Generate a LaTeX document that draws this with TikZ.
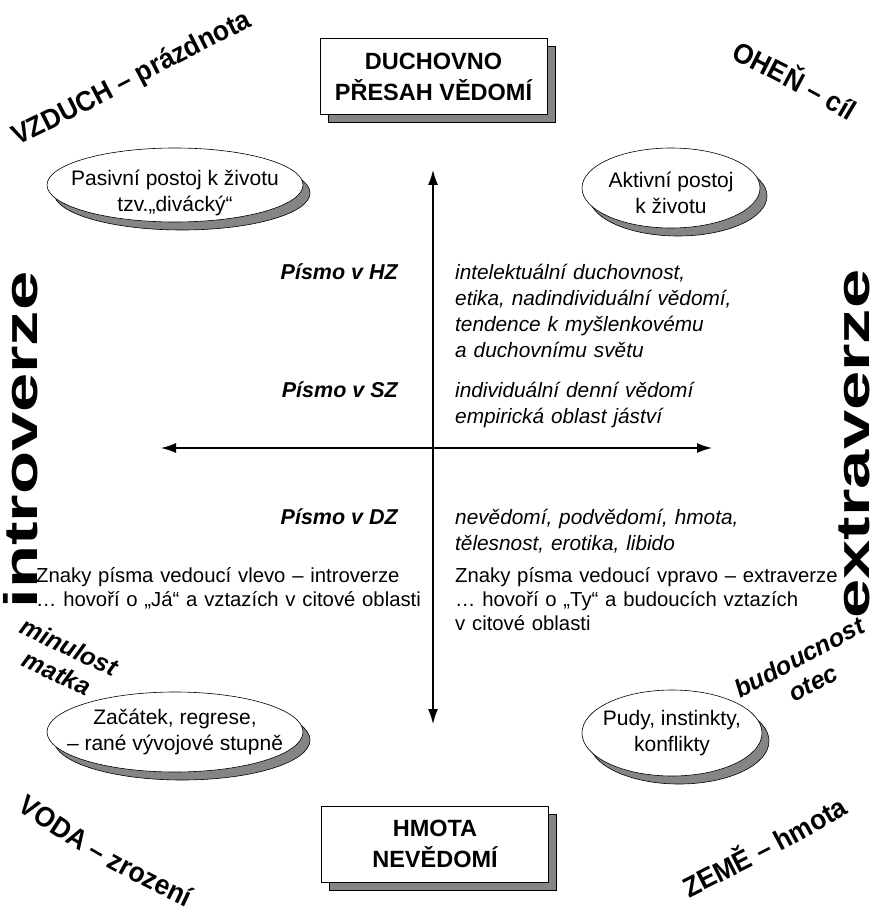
\documentclass[tikz,border=0pt]{standalone}
\usepackage{fontspec}
\setmainfont{Liberation Sans}
\newfontfamily\widefont{Liberation Sans}[FakeStretch=1.5]
\newfontfamily\cornerface{Liberation Sans}[FakeStretch=0.94]
\usetikzlibrary{arrows.meta,shapes.geometric,shadows,decorations.text}

\newcommand{\bodyfont}{\fontsize{20.8}{26}\selectfont}
\newcommand{\cornerfont}{\cornerface\fontsize{28}{28}\selectfont\bfseries}

\begin{document}
\begin{tikzpicture}[x=1pt,y=-1pt,
        every node/.style={font=\bodyfont, inner sep=0pt},
        titlebox/.style={
          draw=black, line width=0.8pt, fill=white,
          minimum width=227pt, minimum height=76pt, align=center,
          font=\fontsize{23.5}{31}\selectfont\bfseries,
          drop shadow={shadow xshift=8pt, shadow yshift=-8pt,
            fill=black!48, draw=black, opacity=1},
        },
        oval/.style={
          ellipse, draw=black, line width=0.6pt, fill=white,
          drop shadow={shadow xshift=7pt, shadow yshift=-8pt,
            fill=black!48, draw=black, opacity=1},
        },
        ovaltext/.style={align=center, font=\fontsize{21}{26}\selectfont},
        script/.style={font=\fontsize{21.5}{26}\selectfont\bfseries\itshape, anchor=base east},
        meaning/.style={font=\bodyfont\itshape, anchor=base west,
          text width=300pt, align=left},
        hint/.style={anchor=base west, text width=400pt, align=left,
          font=\fontsize{20.3}{24}\selectfont},
        side/.style={rotate=90, text height=35pt, text depth=0pt,
          font=\fontsize{47}{47}\selectfont\widefont\bfseries},
        age/.style={align=center, font=\fontsize{25}{29}\selectfont\bfseries\itshape},
        axis/.style={line width=1.4pt, {Latex[length=15pt,width=10pt]}-{Latex[length=15pt,width=10pt]}},
        ]
  \useasboundingbox[fill=white] (0,0) rectangle (877,912);

  % boxes top and bottom
  \node[titlebox] (spirit) at (433.5,76.5) {DUCHOVNO\\PŘESAH VĚDOMÍ};
  \node[titlebox] (matter) at (435,844) {HMOTA\\NEVĚDOMÍ};

  % axes
  \coordinate (up) at (433,170);
  \coordinate (down) at (433,724);
  \coordinate (left) at (161,448);
  \coordinate (right) at (712,448);
  \draw[axis] (up) -- (down);
  \draw[axis] (left) -- (right);

  % ovals
  \node[oval, minimum width=256pt, minimum height=74pt] (passive) at (175,185) {};
  \node[ovaltext] at ([yshift=-8pt]passive) {Pasivní postoj k životu\\tzv.„divácký“};
  \node[oval, minimum width=178pt, minimum height=80pt] (active) at (671,188) {};
  \node[ovaltext] at ([yshift=-5pt]active) {Aktivní postoj\\k životu};
  \node[oval, minimum width=256pt, minimum height=80pt] (origin) at (175,732) {};
  \node[ovaltext] at (origin) {Začátek, regrese,\\– rané vývojové stupně};
  \node[oval, minimum width=180pt, minimum height=86pt] (drives) at (672,733) {};
  \node[ovaltext] at (drives) {Pudy, instinkty,\\konflikty};

  % zones
  \node[script] (hz) at (398,279) {Písmo v HZ};
  \node[meaning] (hzt) at (455,279) {intelektuální duchovnost,\\etika, nadindividuální vědomí,\\tendence k myšlenkovému\\a duchovnímu světu};
  \node[script] (sz) at (398,397) {Písmo v SZ};
  \node[meaning] (szt) at (455,397) {individuální denní vědomí\\empirická oblast jáství};
  \node[script] (dz) at (398,524) {Písmo v DZ};
  \node[meaning] (dzt) at (455,524) {nevědomí, podvědomí, hmota,\\tělesnost, erotika, libido};

  \node[hint] (lefthint) at (36,582) {Znaky písma vedoucí vlevo – introverze\\… hovoří o „Já“ a vztazích v citové oblasti};
  \node[hint] (righthint) at (455,582) {Znaky písma vedoucí vpravo – extraverze\\… hovoří o „Ty“ a budoucích vztazích\\v citové oblasti};

  % sides
  \node[side] (intro) at (20,440) {introverze};
  \node[side] (extra) at (852,444) {extraverze};

  % corners
  \path[decorate, decoration={text along path, text align=center,
      text={|\cornerfont|VZDUCH – prázdnota}}]
    (8,150) .. controls (80,118) and (170,65) .. (262,22);
  \path[decorate, decoration={text along path, text align=center,
      text={|\cornerfont|OHEŇ – cíl}}]
    (718,52) .. controls (758,72) and (813,99) .. (861,129);
  \path[decorate, decoration={text along path, text align=center,
      text={|\cornerfont|VODA – zrození}}]
    (12,806) .. controls (72,850) and (132,882) .. (192,910);
  \path[decorate, decoration={text along path, text align=center,
      text={|\cornerfont|ZEMĚ – hmota}}]
    (676,905) .. controls (720,882) and (800,845) .. (862,805);

  \node[age, rotate=-25] (past) at (63,660) {minulost\\matka};
  \node[age, rotate=28] (future) at (806,670) {budoucnost\\otec};
\end{tikzpicture}
\end{document}
